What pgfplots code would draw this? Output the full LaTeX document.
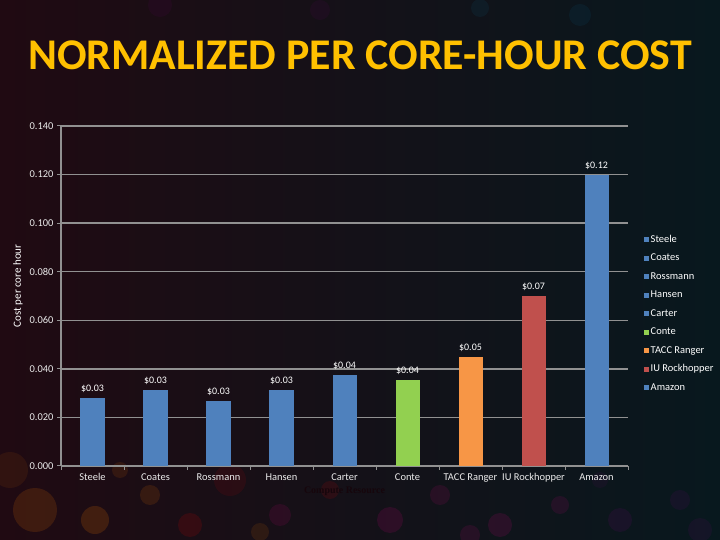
\documentclass[border=0pt]{standalone}
\usepackage{fontspec}
\setmainfont{Carlito}
\newfontfamily\serifb{Liberation Serif}
\usepackage{pgfplots}
\pgfplotsset{compat=1.18}
\definecolor{bblue}{RGB}{79,129,189}
\definecolor{bgreen}{RGB}{146,208,80}
\definecolor{borange}{RGB}{247,150,70}
\definecolor{bred}{RGB}{192,80,77}
\definecolor{titlecol}{RGB}{255,192,0}
\definecolor{gridc}{RGB}{145,145,145}
\definecolor{bgleft}{RGB}{32,10,18}
\definecolor{bgright}{RGB}{8,24,30}
\definecolor{xlabc}{RGB}{22,6,12}
\begin{document}
\begin{tikzpicture}[x=1bp,y=1bp]
\useasboundingbox (0bp,0bp) rectangle (720bp,540bp);
\shade[left color=bgleft, right color=bgright] (0bp,0bp) rectangle (720bp,540bp);
\begin{scope}
\clip (0bp,0bp) rectangle (720bp,540bp);
\foreach \cx/\cy/\r/\c/\o in {35/30/22/orange/0.14, 95/20/14/orange/0.16, 150/45/10/orange/0.12, 190/15/12/red/0.12,
  230/60/16/red/0.08, 280/25/11/magenta/0.1, 330/50/9/red/0.1, 390/20/13/magenta/0.12, 440/45/10/magenta/0.1,
  500/15/12/magenta/0.12, 560/35/9/magenta/0.1, 620/20/12/violet/0.12, 680/40/10/violet/0.1, 10/70/18/orange/0.08,
  120/70/8/orange/0.1, 260/8/9/orange/0.1, 470/5/10/magenta/0.1, 600/60/8/violet/0.08, 700/10/12/violet/0.1,
  160/535/12/violet/0.08, 320/530/10/violet/0.08, 480/532/9/cyan/0.06, 580/525/11/cyan/0.06}
  {\fill[\c, opacity=\o] (\cx bp,\cy bp) circle (\r bp);}
\end{scope}
\node[text=titlecol, font=\fontsize{44}{44}\selectfont\bfseries] at (360bp,485bp) {NORMALIZED PER CORE-HOUR COST};
\begin{axis}[at={(61bp,74bp)}, anchor=south west, scale only axis, width=567bp, height=340bp,
  ybar, bar width=24bp, bar shift=0pt,
  xmin=-0.5, xmax=8.5, ymin=0, ymax=0.14,
  xtick={-0.5,0.5,...,8.5}, x tick label as interval,
  xticklabels={Steele,Coates,Rossmann,Hansen,Carter,Conte,TACC Ranger,IU Rockhopper,Amazon},
  ytick={0,0.02,0.04,0.06,0.08,0.1,0.12,0.14},
  yticklabel style={/pgf/number format/.cd, fixed, fixed zerofill, precision=3},
  /pgf/number format/assume math mode=true,
  ymajorgrids, grid style={gridc, line width=1.3bp},
  axis x line=bottom, axis y line=left,
  axis line style={-, gridc, line width=1.3bp},
  tick style={gridc, line width=1bp}, tick align=outside, major tick length=4bp,
  tick label style={text=white!92!black, font=\fontsize{10.5}{10.5}\selectfont},
  ylabel={Cost per core hour},
  every axis y label/.style={at={(axis description cs:-0.076,0.53)}, rotate=90, anchor=center, text=white, font=\fontsize{11}{11}\selectfont},
  xlabel={Compute Resource},
  every axis x label/.style={at={(axis description cs:0.5,-0.074)}, anchor=center, text=xlabc, font=\serifb\bfseries\fontsize{10}{10}\selectfont},
  nodes near coords, point meta=explicit symbolic,
  every node near coord/.append style={text=white, font=\fontsize{10}{10}\selectfont, yshift=2bp},
  legend style={at={(axis description cs:1.023,0.69)}, anchor=north west, draw=none, fill=none,
    font=\fontsize{10.5}{10.5}\selectfont, text=white, row sep=6.5bp,
    nodes={text height=7bp, text depth=2bp, inner sep=1.5bp}},
  legend cell align=left,
  legend image code/.code={\fill[#1] (0bp,-2.5bp) rectangle (5bp,2.5bp);},
]
\addplot[fill=bblue, draw=none] coordinates {(0,0.0281) [\$0.03]};
\addplot[fill=bblue, draw=none] coordinates {(1,0.0313) [\$0.03]};
\addplot[fill=bblue, draw=none] coordinates {(2,0.0267) [\$0.03]};
\addplot[fill=bblue, draw=none] coordinates {(3,0.0313) [\$0.03]};
\addplot[fill=bblue, draw=none] coordinates {(4,0.0374) [\$0.04]};
\addplot[fill=bgreen, draw=none] coordinates {(5,0.0354) [\$0.04]};
\addplot[fill=borange, draw=none] coordinates {(6,0.0450) [\$0.05]};
\addplot[fill=bred, draw=none] coordinates {(7,0.0700) [\$0.07]};
\addplot[fill=bblue, draw=none] coordinates {(8,0.1198) [\$0.12]};
\legend{Steele,Coates,Rossmann,Hansen,Carter,Conte,TACC Ranger,IU Rockhopper,Amazon}
\end{axis}
\end{tikzpicture}
\end{document}
